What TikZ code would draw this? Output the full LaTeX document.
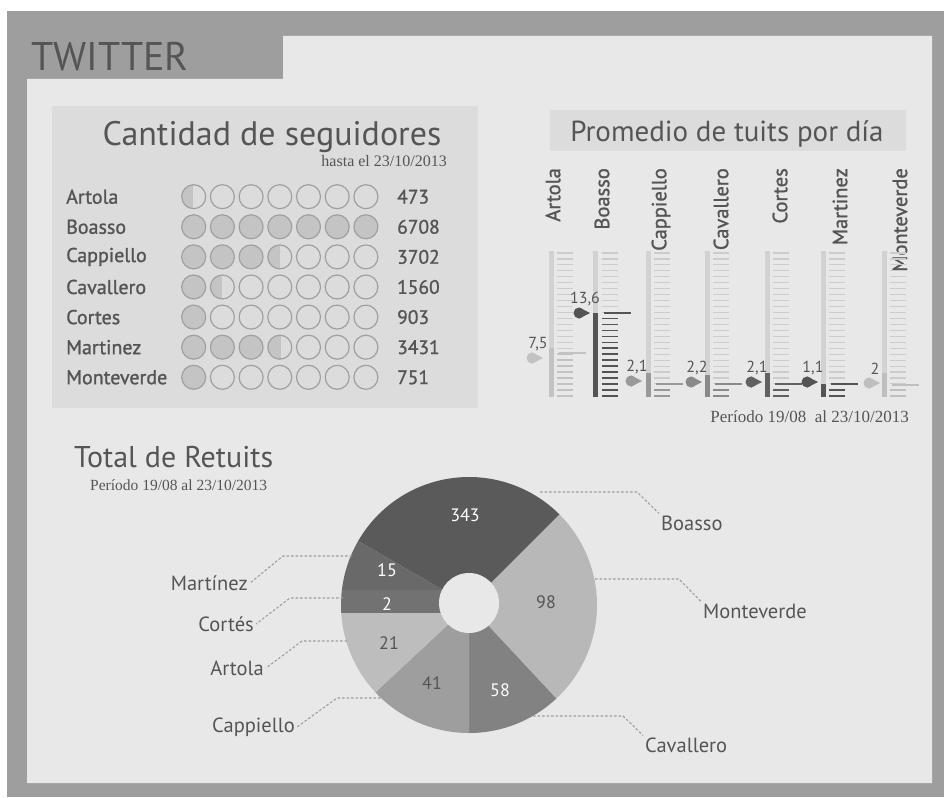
\documentclass[tikz,border=0pt]{standalone}
\usepackage{fontspec}
\setmainfont{PT Sans}
\newfontfamily\medfont[FakeBold=1.2]{PT Sans}
\newfontfamily\notefont{Liberation Serif}
\usetikzlibrary{positioning}

\definecolor{framegray}{HTML}{9E9E9E}
\definecolor{paper}{HTML}{E8E8E8}
\definecolor{boxgray}{HTML}{DCDCDC}
\definecolor{ink}{HTML}{555555}
\definecolor{trackgray}{HTML}{D2D2D2}
\definecolor{tickgray}{HTML}{CCCCCC}
\definecolor{dotfill}{HTML}{C4C4C4}
\definecolor{dotline}{HTML}{A0A0A0}
\definecolor{sliceA}{HTML}{5A5A5A}
\definecolor{sliceB}{HTML}{B8B8B8}
\definecolor{sliceC}{HTML}{828282}
\definecolor{sliceD}{HTML}{9E9E9E}
\definecolor{sliceE}{HTML}{BDBDBD}
\definecolor{sliceF}{HTML}{727272}
\definecolor{sliceG}{HTML}{696969}

\newcommand{\setfs}[1]{\fontsize{#1}{#1}\selectfont}

\begin{document}
\begin{tikzpicture}[x=1pt, y=-1pt,
          rowname/.style={anchor=west, inner sep=0pt, text=ink, font=\medfont\setfs{20}},
          rowval/.style={anchor=west, inner sep=0pt, text=ink, font=\medfont\setfs{19.5}},
          note/.style={inner sep=0pt, text=ink, font=\notefont\setfs{15.5}},
          gname/.style={rotate=90, anchor=east, inner sep=0pt, text=ink, font=\medfont\setfs{20.5}},
          gval/.style={inner sep=0pt, text=ink, font=\setfs{16}},
          pnum/.style={inner sep=0pt, font=\setfs{18}},
          plabel/.style={inner sep=2pt, text=ink, font=\setfs{20.5}},
          leader/.style={draw=black!38, line width=1.1pt, dash pattern=on 2.5pt off 2pt},
        ]
        \useasboundingbox (0,0) rectangle (944,797);
        \fill[white] (0,0) rectangle (944,797);
        \fill[framegray] (7,11) rectangle (944,797);
        \fill[paper] (27,79) -- (283,79) -- (283,36) -- (932,36) -- (932,783) -- (27,783) -- cycle;
        \node[anchor=base west, inner sep=0pt, text=ink, font=\setfs{40}] (twitter) at (31,71) {TWITTER};

        \fill[boxgray] (52,106) rectangle (478,408);
        \node[anchor=base, inner sep=0pt, text=ink, font=\setfs{34}] (seguidores) at (272,145) {Cantidad de seguidores};
        \node[note, anchor=base east, font=\notefont\setfs{16}] (hasta) at (447,166.5) {hasta el 23/10/2013};

        \foreach \nm/\val/\full/\pj/\part [count=\i from 0] in {Artola/473/0/1/0.45, Boasso/6708/7/0/0,
            Cappiello/3702/3/4/0.5, Cavallero/1560/1/2/0.5, Cortes/903/1/0/0,
            Martinez/3431/3/4/0.55, Monteverde/751/1/0/0} {
          \node[rowname] (n\i) at (66,196.7+30.1*\i) {\nm};
          \node[rowval] (v\i) at (397,196.7+30.1*\i) {\val};
          \foreach \j in {1,...,7} {
            \ifnum\j>\full\else
              \fill[dotfill] (165+28.7*\j,196.7+30.1*\i) circle (12pt);
            \fi
            \ifnum\j=\pj
              \begin{scope}
                \clip (165+28.7*\j,196.7+30.1*\i) circle (12pt);
                \fill[dotfill] (153+28.7*\j,180+30.1*\i) rectangle (153+28.7*\j+24*\part,214+30.1*\i);
              \end{scope}
            \fi
            \draw[dotline, line width=1.2pt] (165+28.7*\j,196.7+30.1*\i) circle (12pt);
          }
        }

        \fill[boxgray] (550,110) rectangle (906,151);
        \node[anchor=base, inner sep=0pt, text=ink, font=\setfs{29}] (promedio) at (727,142) {Promedio de tuits por día};

        \node[gname] (t1) at (553,168) {Artola};
        \node[gname] (t2) at (602,168) {Boasso};
        \node[gname] (t3) at (661,168) {Cappiello};
        \node[gname] (t4) at (721,168) {Cavallero};
        \node[gname] (t5) at (780,168) {Cortes};
        \node[gname] (t6) at (840,168) {Martinez};
        \node[gname] (t7) at (900,168) {Monteverde};

        \foreach \tx/\ft/\ly/\col/\px/\py/\lab [count=\g] in {
            551/348/353/black!24/533/358/{7,5}, 595.5/313/313/black!67/580/313/{13,6},
            648/373/384/black!40/632/381/{2,1}, 707/375/384/black!46/692/382/{2,2},
            767/373/384/black!62/752/382/{2,1}, 823/384/384/black!67/808/382/{1,1},
            884/373/385/black!25/870/383/{2}} {
          \fill[trackgray] (\tx-2.5,251) rectangle (\tx+2.5,397);
          \fill[\col] (\tx-2.5,\ft) rectangle (\tx+2.5,397);
          \foreach \k in {0,...,24} {
            \pgfmathsetmacro\ty{253+5.95*\k}
            \ifdim\ty pt>\ly pt
              \draw[\col, line width=1.5pt] (\tx+6,\ty) -- (\tx+22,\ty);
            \else
              \draw[tickgray, line width=1.1pt] (\tx+6,\ty) -- (\tx+22,\ty);
            \fi
          }
          \draw[\col, line width=1.4pt] (\tx+8,\ly) -- (\tx+35,\ly);
          \fill[\col] (\px-1,\py) circle (5.5pt);
          \fill[\col] (\px-1,\py-5.5) -- (\px+10,\py) -- (\px-1,\py+5.5) -- cycle;
          \node[gval] (gl\g) at (\px+5,\py-14) {\lab};
        }
        \node[note, anchor=base east, font=\notefont\setfs{17}] (periodoA) at (909,422) {Período 19/08~ al 23/10/2013};

        \node[anchor=base west, inner sep=0pt, text=ink, font=\setfs{30}] (retuits) at (74,467) {Total de Retuits};
        \node[note, anchor=base west] (periodoB) at (90,490) {Período 19/08 al 23/10/2013};

        \coordinate (pc) at (469,605);
        \fill[sliceA] (pc) -- ++(150:128pt) arc[start angle=150, end angle=45, radius=128pt] -- cycle;
        \fill[sliceB] (pc) -- ++(45:128pt) arc[start angle=45, end angle=-47, radius=128pt] -- cycle;
        \fill[sliceC] (pc) -- ++(-47:128pt) arc[start angle=-47, end angle=-90, radius=128pt] -- cycle;
        \fill[sliceD] (pc) -- ++(-90:128pt) arc[start angle=-90, end angle=-137, radius=128pt] -- cycle;
        \begin{scope}
          \clip (pc) -- ++(-137:128pt) arc[start angle=-137, end angle=-210, radius=128pt] -- cycle;
          \fill[sliceG] (330,460) rectangle (480,590);
          \fill[sliceF] (330,590) rectangle (480,613);
          \fill[sliceE] (330,613) rectangle (480,740);
        \end{scope}
        \fill[paper] (469,603) circle (30pt);

        \node[pnum, text=white] (p343) at (465,515) {343};
        \node[pnum, text=white] (p15) at (387,570) {15};
        \node[pnum, text=white] (p2) at (387,604) {2};
        \node[pnum, text=ink] (p21) at (389,643) {21};
        \node[pnum, text=ink] (p41) at (432,683) {41};
        \node[pnum, text=white] (p58) at (500,690) {58};
        \node[pnum, text=ink] (p98) at (546,602) {98};

        \node[plabel, anchor=west] (lBoasso) at (659,523) {Boasso};
        \node[plabel, anchor=west] (lMonteverde) at (701,611) {Monteverde};
        \node[plabel, anchor=west] (lCavallero) at (643,745) {Cavallero};
        \node[plabel, anchor=east] (lMartinez) at (250,583) {Martínez};
        \node[plabel, anchor=east] (lCortes) at (256,624) {Cortés};
        \node[plabel, anchor=east] (lArtola) at (266,668) {Artola};
        \node[plabel, anchor=east] (lCappiello) at (297,727) {Cappiello};

        \coordinate (eBoasso) at (540,492);     \coordinate (kBoasso) at (637,492);
        \coordinate (eMonteverde) at (595,579); \coordinate (kMonteverde) at (679,579);
        \coordinate (eCavallero) at (533,716);  \coordinate (kCavallero) at (623,716);
        \coordinate (eMartinez) at (352,556);   \coordinate (kMartinez) at (283,556);
        \coordinate (eCortes) at (343,598);     \coordinate (kCortes) at (290,598);
        \coordinate (eArtola) at (347,641);     \coordinate (kArtola) at (302,641);
        \coordinate (eCappiello) at (385,698);  \coordinate (kCappiello) at (337,698);

        \draw[leader] (eBoasso) -- (kBoasso) -- (lBoasso.north west);
        \draw[leader] (eMonteverde) -- (kMonteverde) -- (lMonteverde.north west);
        \draw[leader] (eCavallero) -- (kCavallero) -- (lCavallero.north west);
        \draw[leader] (eMartinez) -- (kMartinez) -- (lMartinez.east);
        \draw[leader] (eCortes) -- (kCortes) -- (lCortes.east);
        \draw[leader] (eArtola) -- (kArtola) -- (lArtola.east);
        \draw[leader] (eCappiello) -- (kCappiello) -- (lCappiello.east);
      \end{tikzpicture}
\end{document}
